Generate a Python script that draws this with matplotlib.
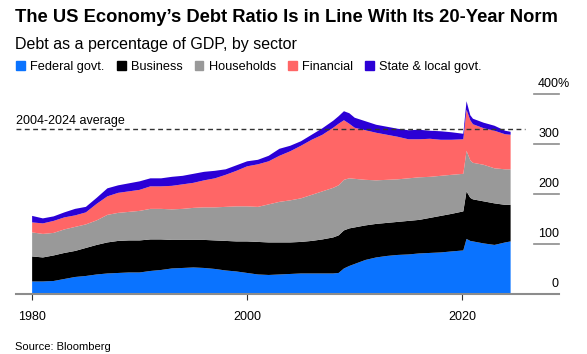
import matplotlib.pyplot as plt
from matplotlib.patches import Patch
from matplotlib.transforms import offset_copy

plt.rcParams['font.family'] = ['Liberation Sans', 'DejaVu Sans']

# Debt as % of GDP by sector
years = [1980, 1981, 1982, 1983, 1984, 1985, 1986, 1987, 1988, 1989,
         1990, 1991, 1992, 1993, 1994, 1995, 1996, 1997, 1998, 1999,
         2000, 2001, 2002, 2003, 2004, 2005, 2006, 2007, 2008, 2008.5,
         2009, 2009.5, 2010, 2011, 2012, 2013, 2014, 2015, 2016, 2017,
         2018, 2019, 2020.1, 2020.4, 2020.75, 2021, 2022, 2023, 2024, 2024.5]
federal = [25, 25, 26, 30, 34, 36, 39, 41, 42, 43,
           43, 46, 48, 51, 52, 53, 52, 50, 47, 45,
           42, 39, 38, 39, 40, 41, 41, 41, 41, 42,
           51, 56, 60, 68, 73, 76, 78, 79, 81, 82,
           83, 85, 87, 110, 106, 105, 101, 98, 103, 105]
business = [50, 48, 51, 52, 52, 56, 59, 62, 64, 64,
            64, 63, 61, 57, 56, 55, 56, 57, 59, 60,
            63, 65, 65, 64, 63, 63, 65, 68, 72, 75,
            76, 75, 73, 69, 67, 66, 66, 67, 67, 70,
            73, 75, 78, 95, 86, 84, 84, 83, 75, 73]
households = [48, 47, 45, 47, 48, 47, 49, 55, 56, 57,
              59, 61, 61, 61, 62, 64, 65, 66, 68, 70,
              70, 70, 76, 81, 84, 87, 92, 96, 99, 100,
              101, 100, 97, 91, 87, 86, 85, 85, 85, 82,
              80, 78, 75, 81, 75, 73, 73, 70, 71, 71]
financial = [20, 21, 24, 24, 23, 24, 33, 37, 40, 41,
             42, 45, 45, 47, 49, 50, 54, 58, 64, 71,
             80, 85, 86, 92, 98, 105, 110, 113, 120, 123,
             119, 109, 102, 99, 95, 90, 85, 78, 76, 76,
             72, 70, 69, 82, 80, 77, 73, 75, 70, 69]
state_local = [13, 10, 9, 10, 13, 11, 12, 16, 15, 16,
               17, 16, 16, 18, 17, 18, 17, 15, 11, 11,
               10, 9, 11, 14, 11, 9, 10, 13, 14, 15,
               18, 21, 20, 18, 16, 16, 16, 18, 19, 16,
               17, 15, 11, 17, 10, 11, 11, 10, 7, 6]

sectors = ['Federal govt.', 'Business', 'Households', 'Financial', 'State & local govt.']
colors = ['#0a73ff', '#000000', '#999999', '#ff6666', '#2b00d6']
avg_level = 329
y_ticks = [0, 100, 200, 300, 400]
x_ticks = [1980, 2000, 2020]

fig = plt.figure(figsize=(5.87, 3.54), dpi=100)
ax = fig.add_axes([16 / 587, 60 / 354, 543 / 587, 200.3 / 354])

ax.stackplot(years, federal, business, households, financial, state_local,
             colors=colors, lw=0)

ax.set_xlim(1978.5, 2029.0)
ax.set_ylim(0, 400)
for s in ax.spines.values():
    s.set_visible(False)
ax.set_yticks([])
ax.set_xticks(x_ticks)
ax.tick_params(axis='x', length=4, width=0.8, color='#333333', labelsize=9, pad=8)

# bottom axis line
ax.axhline(0, color='#8c8c8c', lw=1.5, zorder=5, clip_on=False)

# short tick segments + labels on the right
ytrans = ax.get_yaxis_transform()
for v in y_ticks:
    ax.axhline(v, xmin=0.954, xmax=1.0, color='#8c8c8c', lw=1.2, clip_on=False)
    ax.text(1.0, v + 7, str(v), transform=ytrans,
            ha='right', va='bottom', fontsize=9)
ax.text(1.0, y_ticks[-1] + 7, '%',
        transform=offset_copy(ytrans, fig=fig, x=-1.5, units='dots'),
        ha='left', va='bottom', fontsize=9)

# 20-year average line
ax.axhline(avg_level, xmin=0, xmax=0.937, color='#333333', lw=1,
           dashes=(3.5, 2.5), zorder=6)
ax.text(1978.5, avg_level + 17, '2004-2024 average', ha='left', va='center',
        fontsize=9)

# titles
fig.text(15 / 587, 1 - 9 / 354,
         'The US Economy\u2019s Debt Ratio Is in Line With Its 20-Year Norm',
         fontsize=13.2, fontweight='bold', ha='left', va='top')
fig.text(15 / 587, 1 - 45 / 354, 'Debt as a percentage of GDP, by sector',
         fontsize=11.5, ha='left', va='center')

handles = [Patch(color=c, label=l) for c, l in zip(colors, sectors)]
fig.legend(handles=handles, loc='center left', bbox_to_anchor=(16 / 587, 1 - 67 / 354),
           ncol=5, frameon=False, handlelength=0.7, handleheight=0.7,
           handletextpad=0.4, columnspacing=0.95, fontsize=9.2,
           borderaxespad=0, borderpad=0)

fig.text(15 / 587, 1 - 347 / 354, 'Source: Bloomberg', fontsize=8,
         ha='left', va='center')

fig.savefig('out.png', dpi=100)
